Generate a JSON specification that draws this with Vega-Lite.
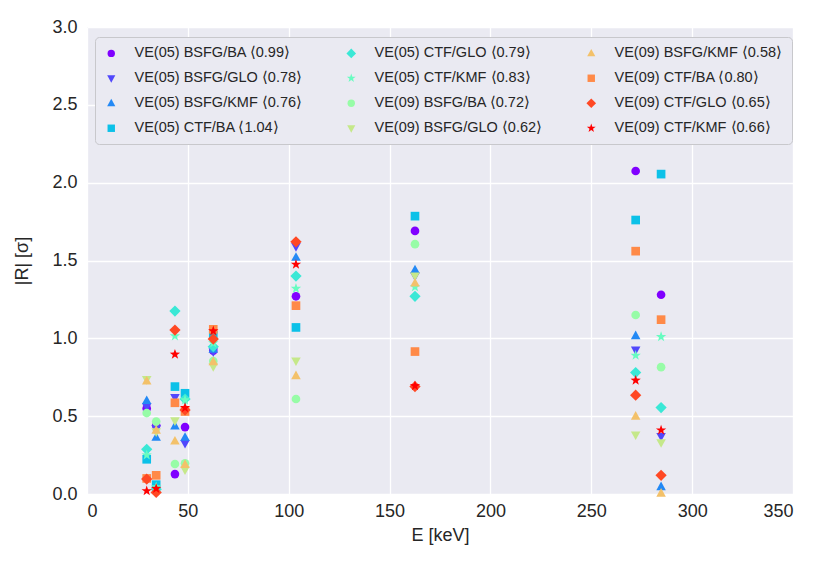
{
  "$schema": "https://vega.github.io/schema/vega-lite/v6.json",
  "width": 706,
  "height": 467,
  "autosize": {"type": "none"},
  "padding": {"left": 87, "top": 27, "right": 37, "bottom": 77},
  "background": "white",
  "config": {
    "view": {"fill": "#EAEAF2", "stroke": null},
    "font": "Liberation Sans",
    "axis": {
      "domain": false,
      "ticks": false,
      "grid": true,
      "gridColor": "white",
      "gridWidth": 1.3,
      "labelFont": "Liberation Sans",
      "labelFontSize": 18,
      "labelColor": "#262626",
      "titleFont": "Liberation Sans",
      "titleFontSize": 18,
      "titleFontWeight": "normal",
      "titleColor": "#262626"
    },
    "legend": {
      "labelFont": "Liberation Sans",
      "labelFontSize": 14.5,
      "labelColor": "#262626",
      "labelLimit": 300
    }
  },
  "data": {
    "values": [
      {"series": "VE(05) BSFG/BA ⟨0.99⟩", "E": 29.6, "R": 0.55},
      {"series": "VE(05) BSFG/BA ⟨0.99⟩", "E": 34.3, "R": 0.44},
      {"series": "VE(05) BSFG/BA ⟨0.99⟩", "E": 43.6, "R": 0.128},
      {"series": "VE(05) BSFG/BA ⟨0.99⟩", "E": 48.6, "R": 0.43},
      {"series": "VE(05) BSFG/BA ⟨0.99⟩", "E": 62.6, "R": 0.92},
      {"series": "VE(05) BSFG/BA ⟨0.99⟩", "E": 103.6, "R": 1.27},
      {"series": "VE(05) BSFG/BA ⟨0.99⟩", "E": 162.6, "R": 1.69},
      {"series": "VE(05) BSFG/BA ⟨0.99⟩", "E": 272.0, "R": 2.075},
      {"series": "VE(05) BSFG/BA ⟨0.99⟩", "E": 284.6, "R": 1.28},
      {"series": "VE(05) BSFG/GLO ⟨0.78⟩", "E": 29.6, "R": 0.56},
      {"series": "VE(05) BSFG/GLO ⟨0.78⟩", "E": 34.3, "R": 0.42},
      {"series": "VE(05) BSFG/GLO ⟨0.78⟩", "E": 43.6, "R": 0.62},
      {"series": "VE(05) BSFG/GLO ⟨0.78⟩", "E": 48.6, "R": 0.325},
      {"series": "VE(05) BSFG/GLO ⟨0.78⟩", "E": 62.6, "R": 0.914},
      {"series": "VE(05) BSFG/GLO ⟨0.78⟩", "E": 103.6, "R": 1.59},
      {"series": "VE(05) BSFG/GLO ⟨0.78⟩", "E": 162.6, "R": 1.40},
      {"series": "VE(05) BSFG/GLO ⟨0.78⟩", "E": 272.0, "R": 0.925},
      {"series": "VE(05) BSFG/GLO ⟨0.78⟩", "E": 284.6, "R": 0.37},
      {"series": "VE(05) BSFG/KMF ⟨0.76⟩", "E": 29.6, "R": 0.60},
      {"series": "VE(05) BSFG/KMF ⟨0.76⟩", "E": 34.3, "R": 0.364},
      {"series": "VE(05) BSFG/KMF ⟨0.76⟩", "E": 43.6, "R": 0.437},
      {"series": "VE(05) BSFG/KMF ⟨0.76⟩", "E": 48.6, "R": 0.364},
      {"series": "VE(05) BSFG/KMF ⟨0.76⟩", "E": 62.6, "R": 0.93},
      {"series": "VE(05) BSFG/KMF ⟨0.76⟩", "E": 103.6, "R": 1.52},
      {"series": "VE(05) BSFG/KMF ⟨0.76⟩", "E": 162.6, "R": 1.44},
      {"series": "VE(05) BSFG/KMF ⟨0.76⟩", "E": 272.0, "R": 1.017},
      {"series": "VE(05) BSFG/KMF ⟨0.76⟩", "E": 284.6, "R": 0.047},
      {"series": "VE(05) CTF/BA ⟨1.04⟩", "E": 29.6, "R": 0.223},
      {"series": "VE(05) CTF/BA ⟨1.04⟩", "E": 34.3, "R": 0.06},
      {"series": "VE(05) CTF/BA ⟨1.04⟩", "E": 43.6, "R": 0.69},
      {"series": "VE(05) CTF/BA ⟨1.04⟩", "E": 48.6, "R": 0.647},
      {"series": "VE(05) CTF/BA ⟨1.04⟩", "E": 62.6, "R": 1.02},
      {"series": "VE(05) CTF/BA ⟨1.04⟩", "E": 103.6, "R": 1.07},
      {"series": "VE(05) CTF/BA ⟨1.04⟩", "E": 162.6, "R": 1.785},
      {"series": "VE(05) CTF/BA ⟨1.04⟩", "E": 272.0, "R": 1.76},
      {"series": "VE(05) CTF/BA ⟨1.04⟩", "E": 284.6, "R": 2.055},
      {"series": "VE(05) CTF/GLO ⟨0.79⟩", "E": 29.6, "R": 0.287},
      {"series": "VE(05) CTF/GLO ⟨0.79⟩", "E": 34.3, "R": 0.03},
      {"series": "VE(05) CTF/GLO ⟨0.79⟩", "E": 43.6, "R": 1.175},
      {"series": "VE(05) CTF/GLO ⟨0.79⟩", "E": 48.6, "R": 0.61},
      {"series": "VE(05) CTF/GLO ⟨0.79⟩", "E": 62.6, "R": 0.946},
      {"series": "VE(05) CTF/GLO ⟨0.79⟩", "E": 103.6, "R": 1.40},
      {"series": "VE(05) CTF/GLO ⟨0.79⟩", "E": 162.6, "R": 1.27},
      {"series": "VE(05) CTF/GLO ⟨0.79⟩", "E": 272.0, "R": 0.78},
      {"series": "VE(05) CTF/GLO ⟨0.79⟩", "E": 284.6, "R": 0.555},
      {"series": "VE(05) CTF/KMF ⟨0.83⟩", "E": 29.6, "R": 0.25},
      {"series": "VE(05) CTF/KMF ⟨0.83⟩", "E": 34.3, "R": 0.045},
      {"series": "VE(05) CTF/KMF ⟨0.83⟩", "E": 43.6, "R": 1.015},
      {"series": "VE(05) CTF/KMF ⟨0.83⟩", "E": 48.6, "R": 0.604},
      {"series": "VE(05) CTF/KMF ⟨0.83⟩", "E": 62.6, "R": 0.97},
      {"series": "VE(05) CTF/KMF ⟨0.83⟩", "E": 103.6, "R": 1.32},
      {"series": "VE(05) CTF/KMF ⟨0.83⟩", "E": 162.6, "R": 1.33},
      {"series": "VE(05) CTF/KMF ⟨0.83⟩", "E": 272.0, "R": 0.89},
      {"series": "VE(05) CTF/KMF ⟨0.83⟩", "E": 284.6, "R": 1.01},
      {"series": "VE(09) BSFG/BA ⟨0.72⟩", "E": 29.6, "R": 0.52},
      {"series": "VE(09) BSFG/BA ⟨0.72⟩", "E": 34.3, "R": 0.465},
      {"series": "VE(09) BSFG/BA ⟨0.72⟩", "E": 43.6, "R": 0.193},
      {"series": "VE(09) BSFG/BA ⟨0.72⟩", "E": 48.6, "R": 0.197},
      {"series": "VE(09) BSFG/BA ⟨0.72⟩", "E": 62.6, "R": 0.854},
      {"series": "VE(09) BSFG/BA ⟨0.72⟩", "E": 103.6, "R": 0.61},
      {"series": "VE(09) BSFG/BA ⟨0.72⟩", "E": 162.6, "R": 1.605},
      {"series": "VE(09) BSFG/BA ⟨0.72⟩", "E": 272.0, "R": 1.15},
      {"series": "VE(09) BSFG/BA ⟨0.72⟩", "E": 284.6, "R": 0.815},
      {"series": "VE(09) BSFG/GLO ⟨0.62⟩", "E": 29.6, "R": 0.735},
      {"series": "VE(09) BSFG/GLO ⟨0.62⟩", "E": 34.3, "R": 0.40},
      {"series": "VE(09) BSFG/GLO ⟨0.62⟩", "E": 43.6, "R": 0.47},
      {"series": "VE(09) BSFG/GLO ⟨0.62⟩", "E": 48.6, "R": 0.155},
      {"series": "VE(09) BSFG/GLO ⟨0.62⟩", "E": 62.6, "R": 0.818},
      {"series": "VE(09) BSFG/GLO ⟨0.62⟩", "E": 103.6, "R": 0.855},
      {"series": "VE(09) BSFG/GLO ⟨0.62⟩", "E": 162.6, "R": 1.40},
      {"series": "VE(09) BSFG/GLO ⟨0.62⟩", "E": 272.0, "R": 0.38},
      {"series": "VE(09) BSFG/GLO ⟨0.62⟩", "E": 284.6, "R": 0.33},
      {"series": "VE(09) BSFG/KMF ⟨0.58⟩", "E": 29.6, "R": 0.725},
      {"series": "VE(09) BSFG/KMF ⟨0.58⟩", "E": 34.3, "R": 0.41},
      {"series": "VE(09) BSFG/KMF ⟨0.58⟩", "E": 43.6, "R": 0.34},
      {"series": "VE(09) BSFG/KMF ⟨0.58⟩", "E": 48.6, "R": 0.19},
      {"series": "VE(09) BSFG/KMF ⟨0.58⟩", "E": 62.6, "R": 0.85},
      {"series": "VE(09) BSFG/KMF ⟨0.58⟩", "E": 103.6, "R": 0.76},
      {"series": "VE(09) BSFG/KMF ⟨0.58⟩", "E": 162.6, "R": 1.355},
      {"series": "VE(09) BSFG/KMF ⟨0.58⟩", "E": 272.0, "R": 0.50},
      {"series": "VE(09) BSFG/KMF ⟨0.58⟩", "E": 284.6, "R": 0.005},
      {"series": "VE(09) CTF/BA ⟨0.80⟩", "E": 29.6, "R": 0.10},
      {"series": "VE(09) CTF/BA ⟨0.80⟩", "E": 34.3, "R": 0.12},
      {"series": "VE(09) CTF/BA ⟨0.80⟩", "E": 43.6, "R": 0.586},
      {"series": "VE(09) CTF/BA ⟨0.80⟩", "E": 48.6, "R": 0.53},
      {"series": "VE(09) CTF/BA ⟨0.80⟩", "E": 62.6, "R": 1.058},
      {"series": "VE(09) CTF/BA ⟨0.80⟩", "E": 103.6, "R": 1.21},
      {"series": "VE(09) CTF/BA ⟨0.80⟩", "E": 162.6, "R": 0.915},
      {"series": "VE(09) CTF/BA ⟨0.80⟩", "E": 272.0, "R": 1.56},
      {"series": "VE(09) CTF/BA ⟨0.80⟩", "E": 284.6, "R": 1.12},
      {"series": "VE(09) CTF/GLO ⟨0.65⟩", "E": 29.6, "R": 0.096},
      {"series": "VE(09) CTF/GLO ⟨0.65⟩", "E": 34.3, "R": 0.01},
      {"series": "VE(09) CTF/GLO ⟨0.65⟩", "E": 43.6, "R": 1.053},
      {"series": "VE(09) CTF/GLO ⟨0.65⟩", "E": 48.6, "R": 0.54},
      {"series": "VE(09) CTF/GLO ⟨0.65⟩", "E": 62.6, "R": 0.995},
      {"series": "VE(09) CTF/GLO ⟨0.65⟩", "E": 103.6, "R": 1.62},
      {"series": "VE(09) CTF/GLO ⟨0.65⟩", "E": 162.6, "R": 0.69},
      {"series": "VE(09) CTF/GLO ⟨0.65⟩", "E": 272.0, "R": 0.635},
      {"series": "VE(09) CTF/GLO ⟨0.65⟩", "E": 284.6, "R": 0.12},
      {"series": "VE(09) CTF/KMF ⟨0.66⟩", "E": 29.6, "R": 0.02},
      {"series": "VE(09) CTF/KMF ⟨0.66⟩", "E": 34.3, "R": 0.035},
      {"series": "VE(09) CTF/KMF ⟨0.66⟩", "E": 43.6, "R": 0.897},
      {"series": "VE(09) CTF/KMF ⟨0.66⟩", "E": 48.6, "R": 0.554},
      {"series": "VE(09) CTF/KMF ⟨0.66⟩", "E": 62.6, "R": 1.047},
      {"series": "VE(09) CTF/KMF ⟨0.66⟩", "E": 103.6, "R": 1.475},
      {"series": "VE(09) CTF/KMF ⟨0.66⟩", "E": 162.6, "R": 0.695},
      {"series": "VE(09) CTF/KMF ⟨0.66⟩", "E": 272.0, "R": 0.73},
      {"series": "VE(09) CTF/KMF ⟨0.66⟩", "E": 284.6, "R": 0.41}
    ]
  },
  "mark": {"type": "point", "filled": true, "opacity": 1, "size": 75, "strokeWidth": 0},
  "encoding": {
    "x": {
      "field": "E",
      "type": "quantitative",
      "title": "E [keV]",
      "scale": {"domain": [0, 350], "nice": false, "zero": false},
      "axis": {"values": [0, 50, 100, 150, 200, 250, 300, 350], "labelPadding": 8, "titlePadding": 6}
    },
    "y": {
      "field": "R",
      "type": "quantitative",
      "title": "|R| [σ]",
      "scale": {"domain": [0, 3], "nice": false},
      "axis": {"values": [0, 0.5, 1, 1.5, 2, 2.5, 3], "format": ".1f", "labelPadding": 10, "titlePadding": 20}
    },
    "color": {
      "field": "series",
      "type": "nominal",
      "sort": null,
      "scale": {
        "domain": [
          "VE(05) BSFG/BA ⟨0.99⟩", "VE(05) BSFG/GLO ⟨0.78⟩", "VE(05) BSFG/KMF ⟨0.76⟩", "VE(05) CTF/BA ⟨1.04⟩",
          "VE(05) CTF/GLO ⟨0.79⟩", "VE(05) CTF/KMF ⟨0.83⟩", "VE(09) BSFG/BA ⟨0.72⟩", "VE(09) BSFG/GLO ⟨0.62⟩",
          "VE(09) BSFG/KMF ⟨0.58⟩", "VE(09) CTF/BA ⟨0.80⟩", "VE(09) CTF/GLO ⟨0.65⟩", "VE(09) CTF/KMF ⟨0.66⟩"
        ],
        "range": [
          "#8000ff", "#5148fc", "#2389f5", "#0cc1e8",
          "#3ae8d6", "#68fcc1", "#97fca7", "#c5e88a",
          "#f3c16a", "#ff8a48", "#ff4824", "#ff0000"
        ]
      },
      "legend": {
        "title": null,
        "orient": "none",
        "legendX": 8,
        "legendY": 10,
        "columns": 3,
        "gridAlign": "all",
        "columnPadding": 41,
        "rowPadding": 10,
        "symbolSize": 55,
        "symbolStrokeWidth": 0,
        "symbolOpacity": 1,
        "labelOffset": 16,
        "padding": 9,
        "fillColor": "#EAEAF2",
        "strokeColor": "#c8c8cc",
        "cornerRadius": 4
      }
    },
    "shape": {
      "field": "series",
      "type": "nominal",
      "sort": null,
      "scale": {
        "domain": [
          "VE(05) BSFG/BA ⟨0.99⟩", "VE(05) BSFG/GLO ⟨0.78⟩", "VE(05) BSFG/KMF ⟨0.76⟩", "VE(05) CTF/BA ⟨1.04⟩",
          "VE(05) CTF/GLO ⟨0.79⟩", "VE(05) CTF/KMF ⟨0.83⟩", "VE(09) BSFG/BA ⟨0.72⟩", "VE(09) BSFG/GLO ⟨0.62⟩",
          "VE(09) BSFG/KMF ⟨0.58⟩", "VE(09) CTF/BA ⟨0.80⟩", "VE(09) CTF/GLO ⟨0.65⟩", "VE(09) CTF/KMF ⟨0.66⟩"
        ],
        "range": [
          "circle",
          "M0,1.2L1.1,-0.8L-1.1,-0.8Z",
          "M0,-1.2L1.1,0.8L-1.1,0.8Z",
          "square",
          "M0,-1.3L1.3,0L0,1.3L-1.3,0Z",
          "M0,-1.25L0.294,-0.405L1.189,-0.386L0.475,0.155L0.735,1.011L0,0.5L-0.735,1.011L-0.475,0.155L-1.189,-0.386L-0.294,-0.405Z",
          "circle",
          "M0,1.2L1.1,-0.8L-1.1,-0.8Z",
          "M0,-1.2L1.1,0.8L-1.1,0.8Z",
          "square",
          "M0,-1.3L1.3,0L0,1.3L-1.3,0Z",
          "M0,-1.25L0.294,-0.405L1.189,-0.386L0.475,0.155L0.735,1.011L0,0.5L-0.735,1.011L-0.475,0.155L-1.189,-0.386L-0.294,-0.405Z"
        ]
      }
    }
  }
}
